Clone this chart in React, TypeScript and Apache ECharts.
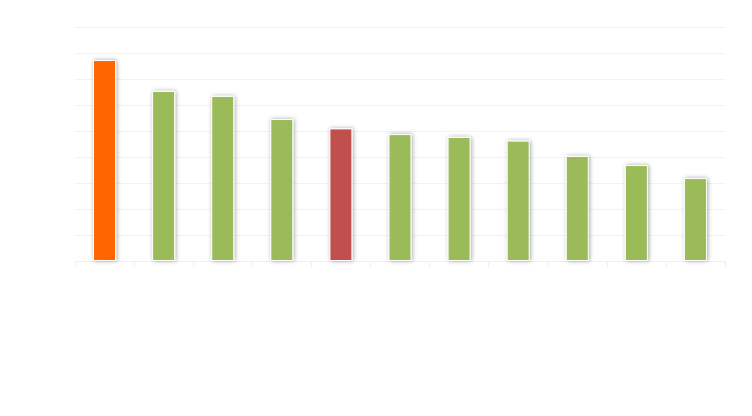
import React, { useEffect, useRef } from "react";
import * as echarts from "echarts";

const categories = ["A", "B", "C", "D", "E", "F", "G", "H", "I", "J", "K"];
const values = [7.73, 6.54, 6.35, 5.46, 5.1, 4.88, 4.77, 4.63, 4.04, 3.69, 3.19];
const barColors = ["#FF6600", "#9BBB59", "#9BBB59", "#9BBB59", "#C0504D", "#9BBB59", "#9BBB59", "#9BBB59", "#9BBB59", "#9BBB59", "#9BBB59"];

export default function App() {
  const ref = useRef<HTMLDivElement>(null);
  useEffect(() => {
    if (!ref.current) return;
    const chart = echarts.init(ref.current, undefined, { renderer: "svg" });
    chart.setOption({
      animation: false,
      grid: { left: 75, right: 27, top: 27, bottom: 155 },
      xAxis: {
        type: "category",
        data: categories,
        axisLine: { lineStyle: { color: "#f0f0f0", width: 1 } },
        axisTick: { show: true, length: 6, lineStyle: { color: "#f0f0f0" } },
        axisLabel: { show: false },
      },
      yAxis: {
        type: "value",
        min: 0,
        max: 9,
        interval: 1,
        axisLabel: { show: false },
        axisLine: { show: false },
        axisTick: { show: false },
        splitLine: { lineStyle: { color: "#f3f3f3", width: 1 } },
      },
      series: [
        {
          type: "bar",
          barWidth: 23,
          data: values.map((v, i) => ({
            value: v,
            itemStyle: { color: barColors[i] },
          })),
          itemStyle: {
            borderColor: "#ffffff",
            borderWidth: 1,
            shadowBlur: 4,
            shadowColor: "rgba(0,0,0,0.35)",
            shadowOffsetX: 1,
          },
        },
      ],
    });
    return () => chart.dispose();
  }, []);
  return <div ref={ref} style={{ width: 752, height: 416, position: "absolute", left: 0, top: 0 }} />;
}
